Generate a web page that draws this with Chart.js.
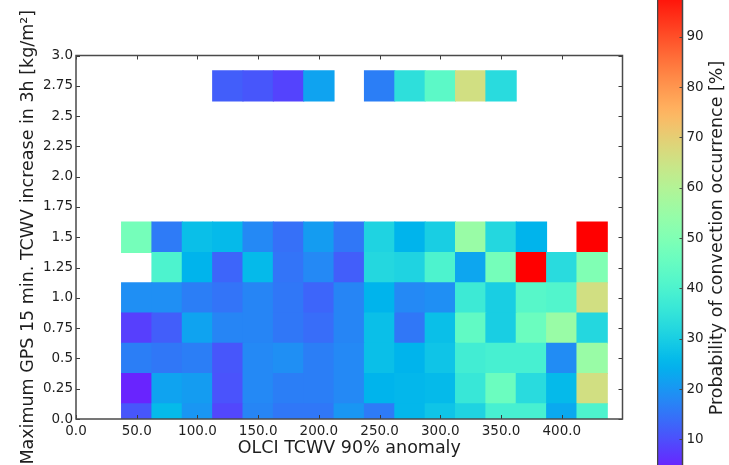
<!DOCTYPE html>
<html><head><meta charset="utf-8">
<script src="https://cdn.jsdelivr.net/npm/chart.js@4"></script>
<style>
html,body{margin:0;padding:0;background:#fff;overflow:hidden;}
#wrap{position:relative;width:729px;height:465px;}
#main{position:absolute;left:0;top:0;}
#cbar{position:absolute;left:657px;top:0;}
</style></head><body>
<div id="wrap"><canvas id="main" width="729" height="465"></canvas><canvas id="cbar" width="72" height="465"></canvas></div>
<script>
// ---- data ----
const xCenters = [50, 75, 100, 125, 150, 175, 200, 225, 250, 275, 300, 325, 350, 375, 400, 425];
const yCenters = [0, 0.25, 0.5, 0.75, 1.0, 1.25, 1.5, 2.75];
const row000 = [11, 26, 20, 9, 17.5, 15.5, 15.5, 20, 16, 25.5, 28, 31, 39, 39, 23, 40];
const row025 = [4.5, 22, 21, 10.5, 18, 16.5, 16.5, 18, 25, 25.5, 26, 36, 46, 33, 26, 66];
const row050 = [16.5, 15.5, 16.5, 11, 18, 19, 16.5, 18, 27, 25, 28, 38, 39, 39, 18.5, 55];
const row075 = [8, 12, 22, 17.5, 17.5, 15.5, 14, 17.5, 27, 15.5, 27, 44, 30, 46, 55, 32];
const row100 = [19, 19, 16.5, 15, 17.5, 15.5, 13, 17.5, 25, 18, 19, 37, 30, 42, 41, 66];
const row125 = [null, 40, 25, 13, 26, 15, 18, 12, 32, 31, 40, 22.5, 48, 100, 33, 50];
const row150 = [48, 16, 27, 26, 18, 14.5, 21, 15.5, 31, 25, 30, 55, 32, 25, null, 100];
const row275 = [null, null, null, 12, 11, 8.5, 22, null, 16.5, 34, 43, 66, 33, null, null, null];
const rows = [row000, row025, row050, row075, row100, row125, row150, row275];
const xTicks = [0, 50, 100, 150, 200, 250, 300, 350, 400];
const yTicks = [0, 0.25, 0.5, 0.75, 1.0, 1.25, 1.5, 1.75, 2.0, 2.25, 2.5, 2.75, 3.0];
const yTickLabels = ['0.0', '0.25', '0.5', '0.75', '1.0', '1.25', '1.5', '1.75', '2.0', '2.25', '2.5', '2.75', '3.0'];
const cbTicks = [10, 20, 30, 40, 50, 60, 70, 80, 90];
const cbMin = 0, cbMax = 100;

// ---- layout / style ----
const xBinWidth = 25, yBinWidth = 0.25;
const FONT = "'DejaVu Sans', sans-serif";
const TEXT = '#1e1e1e';

function rainbow(v) {
  const t = Math.max(0, Math.min(1, (v - cbMin) / (cbMax - cbMin)));
  const r = Math.min(1, Math.abs(2 * t - 0.5));
  const g = Math.sin(Math.PI * t);
  const b = Math.cos(Math.PI * t / 2);
  return 'rgb(' + Math.round(r * 255) + ',' + Math.round(g * 255) + ',' + Math.round(b * 255) + ')';
}

const datasets = rows.map((vals, ri) => {
  const pts = [], cols = [];
  vals.forEach((v, ci) => {
    if (v === null) return;
    pts.push({ x: xCenters[ci], y: [yCenters[ri] - yBinWidth / 2, yCenters[ri] + yBinWidth / 2] });
    cols.push(rainbow(v));
  });
  return { data: pts, backgroundColor: cols, borderWidth: 0, inflateAmount: 0.5, grouped: false,
           categoryPercentage: 1, barPercentage: 1, clip: 0 };
});

const frameTicks = {
  id: 'frameTicks',
  afterDraw(chart) {
    const { ctx, chartArea: a, scales: { x, y } } = chart;
    ctx.save();
    ctx.strokeStyle = '#3a3a3a';
    ctx.lineWidth = 1;
    const L = 4;
    ctx.beginPath();
    x.ticks.forEach(t => {
      const px = Math.round(x.getPixelForValue(t.value)) + 0.5;
      ctx.moveTo(px, a.bottom); ctx.lineTo(px, a.bottom - L);
      ctx.moveTo(px, a.top); ctx.lineTo(px, a.top + L);
    });
    y.ticks.forEach(t => {
      const py = Math.round(y.getPixelForValue(t.value)) + 0.5;
      ctx.moveTo(a.left, py); ctx.lineTo(a.left + L, py);
      ctx.moveTo(a.right, py); ctx.lineTo(a.right - L, py);
    });
    ctx.stroke();
    ctx.lineWidth = 1.5;
    ctx.strokeStyle = '#4a4a4a';
    ctx.strokeRect(a.left, a.top, a.width, a.height);
    ctx.restore();
  }
};

new Chart(document.getElementById('main'), {
  type: 'bar',
  data: { datasets },
  options: {
    responsive: false, animation: false,
    layout: { padding: { left: 0, top: 55.5, right: 106.5, bottom: 0 } },
    plugins: { legend: { display: false }, tooltip: { enabled: false } },
    scales: {
      x: {
        type: 'linear', min: 0, max: 450, offset: false,
        grid: { display: false, drawTicks: false, tickLength: 0, offset: false },
        border: { display: false },
        afterBuildTicks: s => { s.ticks = xTicks.map(v => ({ value: v })); },
        ticks: { autoSkip: false, maxRotation: 0, padding: 4, color: TEXT,
                 font: { family: FONT, size: 13.5 }, callback: v => Number(v).toFixed(1) },
        title: { display: true, text: 'OLCI TCWV 90% anomaly', color: TEXT,
                 font: { family: FONT, size: 17.5 }, padding: { top: 0, bottom: 6 } },
        afterFit: s => { s.height = 46; s.paddingLeft = 0; s.paddingRight = 0; }
      },
      y: {
        type: 'linear', min: 0, max: 3,
        grid: { display: false, drawTicks: false, tickLength: 0 },
        border: { display: false },
        afterBuildTicks: s => { s.ticks = yTicks.map(v => ({ value: v })); },
        ticks: { autoSkip: false, padding: 3, color: TEXT,
                 font: { family: FONT, size: 13.5 }, callback: (v, i) => yTickLabels[i] },
        title: { display: true, text: 'Maximum GPS 15 min. TCWV increase in 3h [kg/m²]', color: TEXT,
                 font: { family: FONT, size: 17.5 }, padding: { top: 18, bottom: 0 } },
        afterFit: s => { s.width = 76; s.paddingTop = 0; s.paddingBottom = 0; }
      }
    }
  },
  plugins: [frameTicks]
});

const cbDecor = {
  id: 'cbDecor',
  afterDraw(chart) {
    const { ctx, chartArea: a, scales: { y } } = chart;
    ctx.save();
    ctx.strokeStyle = '#444';
    ctx.lineWidth = 1;
    ctx.beginPath();
    y.ticks.forEach(t => {
      const py = Math.round(y.getPixelForValue(t.value)) + 0.5;
      ctx.moveTo(a.right, py); ctx.lineTo(a.right - 3, py);
    });
    ctx.stroke();
    ctx.lineWidth = 1.5;
    ctx.strokeRect(a.left + 0.5, a.top - 2, a.width - 0.5, a.height + 4);
    ctx.fillStyle = TEXT;
    ctx.font = '17.5px ' + FONT;
    ctx.textAlign = 'center';
    ctx.textBaseline = 'middle';
    ctx.translate(a.right + 35, y.getPixelForValue((cbMin + cbMax) / 2));
    ctx.rotate(-Math.PI / 2);
    ctx.fillText('Probability of convection occurrence [%]', 0, 0);
    ctx.restore();
  }
};

new Chart(document.getElementById('cbar'), {
  type: 'bar',
  data: { labels: ['p'], datasets: [{
    data: [[cbMin, cbMax]], borderWidth: 0, categoryPercentage: 1, barPercentage: 1, clip: 0,
    backgroundColor: c => {
      const ch = c.chart;
      if (!ch.chartArea) return 'rgba(0,0,0,0)';
      const ys = ch.scales.y;
      const g = ch.ctx.createLinearGradient(0, ys.getPixelForValue(cbMin), 0, ys.getPixelForValue(cbMax));
      for (let i = 0; i <= 50; i++) g.addColorStop(i / 50, rainbow(cbMin + (cbMax - cbMin) * i / 50));
      return g;
    }
  }] },
  options: {
    responsive: false, animation: false,
    layout: { padding: 0 },
    plugins: { legend: { display: false }, tooltip: { enabled: false } },
    scales: {
      x: { display: false },
      y: {
        position: 'right', min: 4.9, max: 97.3,
        grid: { display: false, drawTicks: false, tickLength: 0 },
        border: { display: false },
        afterBuildTicks: s => { s.ticks = cbTicks.map(v => ({ value: v })); },
        ticks: { autoSkip: false, padding: 4, color: TEXT, font: { family: FONT, size: 13.5 },
                 callback: v => String(v) },
        afterFit: s => { s.width = 46.5; s.paddingTop = 0; s.paddingBottom = 0; }
      }
    }
  },
  plugins: [cbDecor]
});
</script>
</body></html>
